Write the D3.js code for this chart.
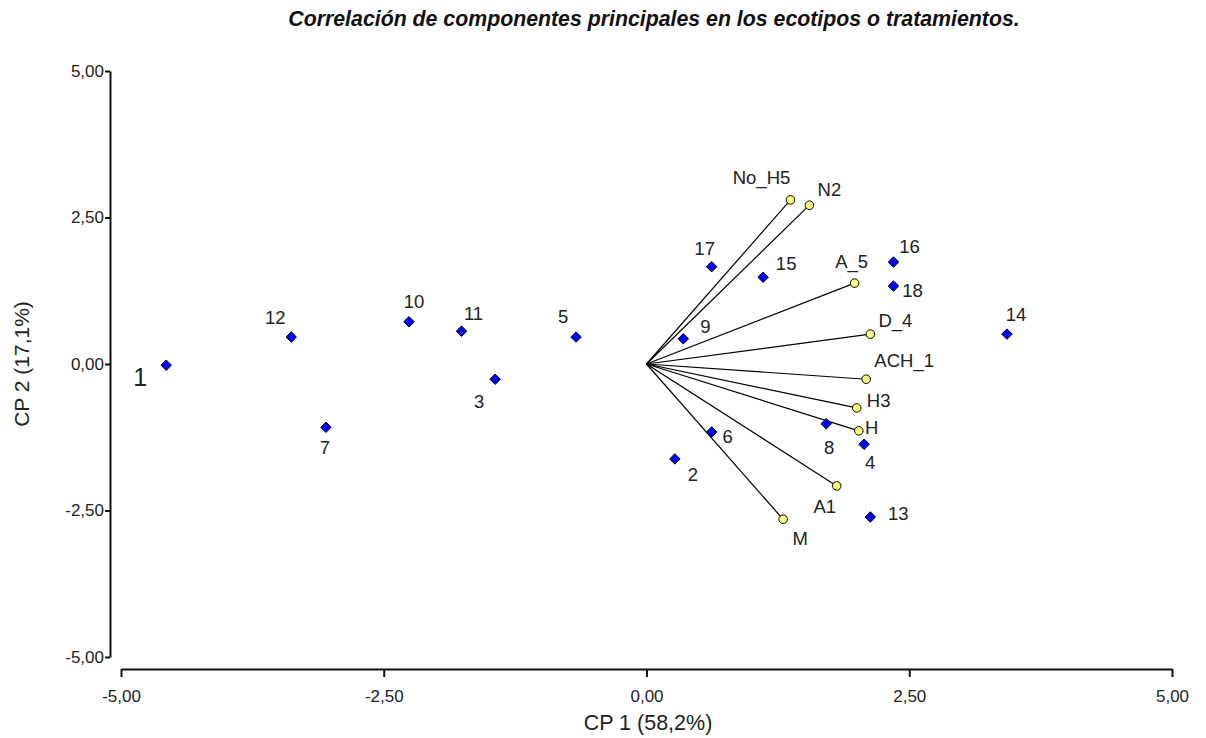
<!DOCTYPE html>
<html>
<head>
  <meta charset="utf-8">
  <title>Correlación de componentes principales</title>
  <script src="https://d3js.org/d3.v7.min.js"></script>
  <style>
    body { margin: 0; padding: 0; background: white; overflow: hidden; }
    svg { display: block; }
  </style>
</head>
<body>
  <svg width="1206" height="738"></svg>

  <script>
    // ecotipos (blue points)
    const ecoNames = ["1", "12", "10", "11", "3", "7", "5", "9", "17", "15", "16", "18", "14", "8", "4", "6", "2", "13"];
    const ecoX = [-4.57, -3.38, -2.26, -1.76, -1.44, -3.05, -0.67, 0.35, 0.62, 1.11, 2.35, 2.35, 3.43, 1.71, 2.07, 0.62, 0.27, 2.13];
    const ecoY = [-0.02, 0.46, 0.72, 0.56, -0.26, -1.08, 0.46, 0.43, 1.66, 1.48, 1.74, 1.33, 0.51, -1.02, -1.37, -1.16, -1.62, -2.61];

    // variables (yellow vectors)
    const varNames = ["No_H5", "N2", "A_5", "D_4", "ACH_1", "H3", "H", "A1", "M"];
    const varX = [1.37, 1.55, 1.98, 2.13, 2.09, 2.00, 2.02, 1.81, 1.30];
    const varY = [2.80, 2.71, 1.38, 0.51, -0.26, -0.75, -1.14, -2.08, -2.65];

    const ticks = [-5, -2.5, 0, 2.5, 5];

    // label offsets in pixels (dx, dy of text centre from the marker)
    const ecoLabelOff = [[-26, 12], [-16, -20], [5, -20], [12, -18], [-16, 22], [-1, 20], [-13, -21], [22, -12],
                         [-7, -18], [23, -14], [16, -16], [19, 4], [9, -20], [3, 24], [6, 18], [16, 5], [18, 16], [28, -3]];
    const varLabelOff = [[-29, -22], [20, -16], [-3, -22], [25, -14], [38, -19], [22, -7], [13, -3], [-12, 21], [17, 19]];

    const svg = d3.select("svg");
    const x = d3.scaleLinear().domain([-5, 5]).range([121, 1172]);
    const y = d3.scaleLinear().domain([-5, 5]).range([657, 71]);
    const fmt = d => d3.format(".2f")(d).replace(".", ",").replace("\u2212", "-");
    const txt = "#222";
    const font = "Liberation Sans, Arial, sans-serif";

    // title
    svg.append("text")
      .attr("x", 654).attr("y", 26)
      .attr("text-anchor", "middle")
      .attr("font-family", font)
      .attr("font-size", "21.3px").attr("font-weight", "bold").attr("font-style", "italic")
      .attr("fill", "#111")
      .text("Correlación de componentes principales en los ecotipos o tratamientos.");

    // axes
    const xAxis = svg.append("g")
      .attr("transform", "translate(0,669)")
      .call(d3.axisBottom(x).tickValues(ticks).tickFormat(fmt).tickSize(8).tickSizeOuter(0));
    const yAxis = svg.append("g")
      .attr("transform", "translate(110,0)")
      .call(d3.axisLeft(y).tickValues(ticks).tickFormat(fmt).tickSize(5).tickSizeOuter(0));

    [xAxis, yAxis].forEach(a => {
      a.select(".domain").attr("stroke", "#111").attr("stroke-width", 2);
      a.selectAll(".tick line").attr("stroke", "#111").attr("stroke-width", 2);
      a.selectAll(".tick text")
        .attr("font-family", font)
        .attr("font-size", "17px").attr("fill", txt);
    });
    xAxis.selectAll(".tick text").attr("dy", "1.3em");
    yAxis.selectAll(".tick text").attr("x", -6);

    svg.append("text")
      .attr("x", 648).attr("y", 730)
      .attr("text-anchor", "middle")
      .attr("font-family", font)
      .attr("font-size", "21.5px").attr("fill", txt)
      .text("CP 1 (58,2%)");

    svg.append("text")
      .attr("transform", "translate(29,364) rotate(-90)")
      .attr("text-anchor", "middle")
      .attr("font-family", font)
      .attr("font-size", "21px").attr("fill", txt)
      .text("CP 2 (17,1%)");

    const vars = varNames.map((n, i) => ({ name: n, x: varX[i], y: varY[i], off: varLabelOff[i] }));
    const ecos = ecoNames.map((n, i) => ({ name: n, x: ecoX[i], y: ecoY[i], off: ecoLabelOff[i] }));

    // vectors
    svg.append("g").selectAll("line")
      .data(vars)
      .join("line")
        .attr("x1", x(0)).attr("y1", y(0))
        .attr("x2", d => x(d.x)).attr("y2", d => y(d.y))
        .attr("stroke", "#000").attr("stroke-width", 1.2);

    svg.append("g").selectAll("circle")
      .data(vars)
      .join("circle")
        .attr("cx", d => x(d.x)).attr("cy", d => y(d.y))
        .attr("r", 4.3)
        .attr("fill", "#ffff80").attr("stroke", "#000").attr("stroke-width", 1);

    // ecotype diamonds
    const diamond = d3.symbol().type(d3.symbolDiamond2).size(70);
    svg.append("g").selectAll("path")
      .data(ecos)
      .join("path")
        .attr("d", diamond)
        .attr("transform", d => `translate(${x(d.x)},${y(d.y)})`)
        .attr("fill", "#0000ff").attr("stroke", "#000").attr("stroke-width", 1);

    // labels
    svg.append("g").selectAll("text")
      .data(ecos.concat(vars))
      .join("text")
        .attr("x", d => x(d.x) + d.off[0])
        .attr("y", d => y(d.y) + d.off[1])
        .attr("dy", "0.35em")
        .attr("text-anchor", "middle")
        .attr("font-family", font)
        .attr("font-size", d => d.name === "1" ? "25px" : "18.5px")
        .attr("fill", txt)
        .text(d => d.name);
  </script>
</body>
</html>
